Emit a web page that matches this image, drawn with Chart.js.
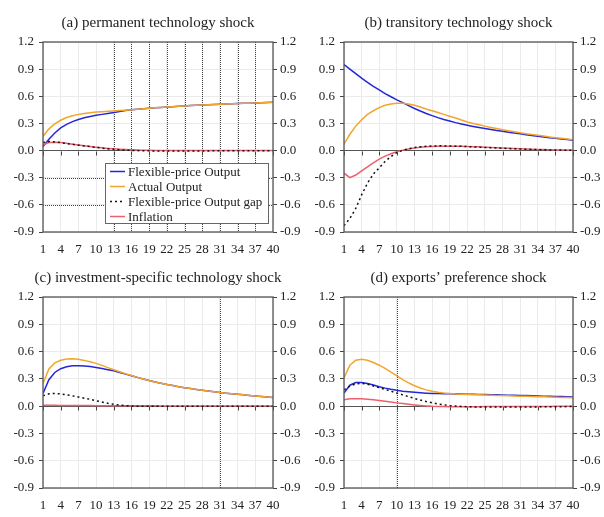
<!DOCTYPE html>
<html>
<head>
<meta charset="utf-8">
<title>Impulse responses</title>
<script src="https://cdn.jsdelivr.net/npm/chart.js@4.4.1/dist/chart.umd.min.js"></script>
<style>
    body { margin: 0; background: #fff; }
    #wrap { position: relative; width: 604px; height: 517px; overflow: hidden; }
    .panel { position: absolute; }
</style>
</head>
<body>
<div id="wrap">
    <div class="panel" style="left:0;top:0"><canvas id="panelA" width="300" height="258"></canvas></div>
    <div class="panel" style="left:300px;top:0"><canvas id="panelB" width="304" height="258"></canvas></div>
    <div class="panel" style="left:0;top:258px"><canvas id="panelC" width="300" height="259"></canvas></div>
    <div class="panel" style="left:300px;top:258px"><canvas id="panelD" width="304" height="259"></canvas></div>
</div>
<script>
// periods and axis ticks
const periods = [1,2,3,4,5,6,7,8,9,10,11,12,13,14,15,16,17,18,19,20,21,22,23,24,25,26,27,28,29,30,31,32,33,34,35,36,37,38,39,40];
const xTicks = [1,4,7,10,13,16,19,22,25,28,31,34,37,40];
const yTicks = [-0.9,-0.6,-0.3,0,0.3,0.6,0.9,1.2];

const seriesNames = ['Flexible-price Output', 'Actual Output', 'Flexible-price Output gap', 'Inflation'];

// (a) permanent technology shock
const aFlex = [0.045,0.125,0.195,0.25,0.29,0.32,0.343,0.362,0.377,0.39,0.40,0.41,0.42,0.432,0.442,0.45,0.456,0.462,0.467,0.472,0.477,0.481,0.485,0.489,0.493,0.497,0.5,0.503,0.506,0.509,0.512,0.515,0.517,0.52,0.522,0.524,0.526,0.528,0.531,0.533];
const aAct = [0.155,0.24,0.295,0.335,0.365,0.385,0.40,0.41,0.418,0.425,0.43,0.434,0.438,0.442,0.446,0.451,0.456,0.462,0.467,0.472,0.477,0.481,0.485,0.489,0.493,0.497,0.5,0.503,0.506,0.509,0.512,0.515,0.517,0.52,0.522,0.524,0.526,0.528,0.531,0.533];
const aGap = [0.09,0.10,0.095,0.087,0.078,0.069,0.06,0.051,0.043,0.035,0.027,0.02,0.014,0.009,0.005,0.002,0,-0.002,-0.003,-0.004,-0.004,-0.004,-0.004,-0.004,-0.004,-0.004,-0.004,-0.004,-0.004,-0.003,-0.003,-0.003,-0.003,-0.003,-0.003,-0.002,-0.002,-0.002,-0.002,-0.002];
const aInf = [0.065,0.09,0.092,0.088,0.08,0.071,0.062,0.053,0.045,0.037,0.03,0.024,0.019,0.015,0.011,0.008,0.006,0.004,0.003,0.002,0.002,0.001,0.001,0.001,0.001,0.001,0.001,0.001,0.001,0.001,0.001,0.001,0.001,0.001,0.001,0.001,0.001,0.001,0.001,0.001];

// (b) transitory technology shock
const bFlex = [0.95,0.90,0.85,0.80,0.755,0.71,0.67,0.63,0.595,0.56,0.53,0.497,0.465,0.437,0.41,0.386,0.364,0.344,0.326,0.309,0.294,0.28,0.267,0.255,0.244,0.233,0.223,0.213,0.203,0.194,0.185,0.176,0.167,0.159,0.151,0.143,0.136,0.129,0.122,0.115];
const bAct = [0.07,0.18,0.27,0.34,0.40,0.44,0.475,0.50,0.515,0.523,0.522,0.515,0.50,0.482,0.46,0.44,0.42,0.40,0.38,0.36,0.337,0.316,0.30,0.285,0.27,0.256,0.243,0.231,0.219,0.208,0.197,0.187,0.178,0.169,0.16,0.151,0.143,0.135,0.127,0.12];
const bGap = [-0.83,-0.75,-0.64,-0.49,-0.36,-0.26,-0.19,-0.12,-0.066,-0.022,0.003,0.02,0.033,0.042,0.048,0.051,0.052,0.052,0.051,0.049,0.047,0.044,0.041,0.038,0.035,0.032,0.029,0.026,0.023,0.02,0.018,0.015,0.013,0.011,0.009,0.007,0.006,0.005,0.004,0.003];
const bInf = [-0.25,-0.30,-0.27,-0.225,-0.18,-0.135,-0.095,-0.062,-0.035,-0.013,0.005,0.018,0.028,0.036,0.042,0.046,0.048,0.049,0.049,0.048,0.047,0.045,0.043,0.041,0.038,0.035,0.032,0.029,0.026,0.023,0.02,0.018,0.015,0.013,0.011,0.009,0.007,0.006,0.005,0.004];

// (c) investment-specific technology shock
const cFlex = [0.14,0.29,0.37,0.412,0.433,0.443,0.445,0.442,0.435,0.425,0.413,0.40,0.388,0.37,0.352,0.335,0.316,0.298,0.281,0.266,0.252,0.239,0.226,0.214,0.203,0.193,0.184,0.175,0.166,0.158,0.15,0.143,0.136,0.13,0.124,0.118,0.112,0.106,0.1,0.095];
const cAct = [0.25,0.41,0.475,0.505,0.518,0.52,0.515,0.503,0.488,0.47,0.448,0.424,0.40,0.378,0.356,0.336,0.316,0.298,0.281,0.266,0.252,0.239,0.226,0.214,0.203,0.193,0.184,0.175,0.166,0.158,0.15,0.143,0.136,0.13,0.124,0.118,0.112,0.106,0.1,0.095];
const cGap = [0.115,0.135,0.14,0.135,0.125,0.113,0.1,0.088,0.075,0.06,0.045,0.031,0.02,0.011,0.005,0.001,-0.001,-0.002,-0.002,-0.002,-0.002,-0.002,-0.002,-0.002,-0.002,-0.002,-0.002,-0.002,-0.002,-0.002,-0.002,-0.001,-0.001,-0.001,-0.001,-0.001,-0.001,-0.001,-0.001,-0.001];
const cInf = [0.01,0.01,0.009,0.008,0.008,0.007,0.007,0.006,0.006,0.005,0.005,0.005,0.004,0.004,0.004,0.003,0.003,0.003,0.003,0.003,0.002,0.002,0.002,0.002,0.002,0.002,0.002,0.002,0.002,0.002,0.001,0.001,0.001,0.001,0.001,0.001,0.001,0.001,0.001,0.001];

// (d) exports' preference shock
const dFlex = [0.145,0.23,0.26,0.26,0.25,0.232,0.213,0.198,0.185,0.174,0.165,0.158,0.152,0.147,0.143,0.14,0.138,0.136,0.135,0.134,0.133,0.132,0.131,0.129,0.128,0.126,0.125,0.123,0.121,0.12,0.118,0.116,0.114,0.112,0.11,0.109,0.107,0.105,0.103,0.101];
const dAct = [0.31,0.45,0.505,0.515,0.505,0.48,0.45,0.415,0.375,0.333,0.292,0.255,0.224,0.199,0.179,0.164,0.153,0.145,0.139,0.134,0.131,0.128,0.126,0.124,0.122,0.12,0.118,0.116,0.114,0.112,0.11,0.108,0.106,0.104,0.102,0.1,0.098,0.096,0.094,0.092];
const dGap = [0.18,0.22,0.245,0.25,0.24,0.222,0.203,0.184,0.164,0.144,0.124,0.104,0.085,0.067,0.051,0.037,0.025,0.015,0.007,0.001,-0.003,-0.006,-0.008,-0.009,-0.01,-0.01,-0.01,-0.01,-0.01,-0.01,-0.01,-0.009,-0.009,-0.008,-0.008,-0.007,-0.006,-0.006,-0.005,-0.005];
const dInf = [0.07,0.08,0.081,0.08,0.076,0.07,0.062,0.054,0.045,0.036,0.028,0.02,0.013,0.007,0.002,-0.002,-0.004,-0.005,-0.006,-0.006,-0.006,-0.006,-0.006,-0.006,-0.005,-0.005,-0.005,-0.005,-0.004,-0.004,-0.004,-0.004,-0.003,-0.003,-0.003,-0.003,-0.002,-0.002,-0.002,-0.002];

// dotted marker lines drawn in some panels
const aVMarks = [13,16,19,22,25,28,31,34,37];
const aHMarks = [-0.3,-0.6];
const cVMarks = [31];
const dVMarks = [10];

const FONT = '"Liberation Serif", "Times New Roman", serif';
const TEXT = '#222';
const FRAME = '#555';

// Frame, title, zero-line ticks, marker lines and the boxed legend
const panelDecor = {
    id: 'panelDecor',
    beforeDatasetsDraw(chart, args, opts) {
        const { ctx, chartArea: a, scales } = chart;
        ctx.save();
        ctx.strokeStyle = '#444';
        ctx.lineWidth = 1;
        ctx.setLineDash([1, 1]);
        (opts.vMarks || []).forEach(v => {
            const px = Math.round(scales.x.getPixelForValue(v)) + 0.5;
            ctx.beginPath(); ctx.moveTo(px, a.top); ctx.lineTo(px, a.bottom); ctx.stroke();
        });
        (opts.hMarks || []).forEach(v => {
            const py = Math.round(scales.y.getPixelForValue(v)) + 0.5;
            ctx.beginPath(); ctx.moveTo(a.left, py); ctx.lineTo(a.right, py); ctx.stroke();
        });
        ctx.setLineDash([]);

        // small ticks hanging under the zero line
        const y0 = Math.round(scales.y.getPixelForValue(0)) + 0.5;
        ctx.strokeStyle = '#444';
        xTicks.forEach(v => {
            const px = Math.round(scales.x.getPixelForValue(v)) + 0.5;
            ctx.beginPath(); ctx.moveTo(px, y0); ctx.lineTo(px, y0 + 4); ctx.stroke();
        });
        ctx.restore();
    },
    afterDraw(chart, args, opts) {
        const { ctx, chartArea: a } = chart;
        ctx.save();
        ctx.strokeStyle = FRAME;
        ctx.lineWidth = 1.3;
        ctx.strokeRect(a.left, a.top, a.right - a.left, a.bottom - a.top);

        ctx.fillStyle = TEXT;
        ctx.font = '15px ' + FONT;
        ctx.textAlign = 'center';
        ctx.textBaseline = 'middle';
        ctx.fillText(opts.title, (a.left + a.right) / 2, a.top - 19);

        if (opts.legend) {
            const w = 163, h = 60;
            const lx = a.right - 5 - w;
            const ly = a.bottom - 9 - h;
            ctx.fillStyle = '#fff';
            ctx.fillRect(lx, ly, w, h);
            ctx.strokeStyle = '#666';
            ctx.lineWidth = 1;
            ctx.strokeRect(lx + 0.5, ly + 0.5, w, h);
            ctx.font = '13px ' + FONT;
            ctx.textAlign = 'left';
            chart.data.datasets.forEach((ds, i) => {
                const cy = ly + 8.5 + i * 15;
                ctx.strokeStyle = ds.borderColor;
                ctx.lineWidth = ds.borderWidth;
                ctx.setLineDash(ds.borderDash || []);
                ctx.beginPath(); ctx.moveTo(lx + 5, cy); ctx.lineTo(lx + 20, cy); ctx.stroke();
                ctx.setLineDash([]);
                ctx.fillStyle = TEXT;
                ctx.fillText(ds.label, lx + 23, cy + 1);
            });
        }
        ctx.restore();
    }
};

function makeSet(label, values, color, dash, order) {
    return {
        label: label,
        data: periods.map((p, i) => ({ x: p, y: values[i] })),
        borderColor: color,
        borderWidth: 1.5,
        borderDash: dash,
        pointRadius: 0,
        tension: 0,
        fill: false,
        order: order
    };
}

function buildPanel(canvasId, cfg) {
    const setTicks = list => scale => { scale.ticks = list.map(v => ({ value: v })); };
    const tickFont = { family: FONT, size: 13 };

    new Chart(document.getElementById(canvasId), {
        type: 'line',
        data: {
            datasets: [
                makeSet(seriesNames[0], cfg.series[0], '#2626d9', [], 3),
                makeSet(seriesNames[1], cfg.series[1], '#f2a52c', [], 2),
                makeSet(seriesNames[2], cfg.series[2], '#111', [2, 3], 0),
                makeSet(seriesNames[3], cfg.series[3], '#ec5f6c', [], 1)
            ]
        },
        options: {
            responsive: false,
            animation: false,
            layout: { padding: { top: cfg.top, left: 0, right: 0, bottom: 0 } },
            plugins: {
                legend: { display: false },
                tooltip: { enabled: false },
                panelDecor: {
                    title: cfg.title,
                    vMarks: cfg.vMarks,
                    hMarks: cfg.hMarks,
                    legend: cfg.legend
                }
            },
            scales: {
                x: {
                    type: 'linear',
                    min: 1,
                    max: 40,
                    afterBuildTicks: setTicks(xTicks),
                    afterFit: scale => { scale.height = cfg.xHeight; },
                    grid: { color: '#ebebeb', drawTicks: false },
                    border: { display: false },
                    ticks: {
                        font: tickFont, color: TEXT, padding: 10,
                        maxRotation: 0, autoSkip: false,
                        callback: v => String(v)
                    }
                },
                y: {
                    min: -0.9,
                    max: 1.2,
                    afterBuildTicks: setTicks(yTicks),
                    afterFit: scale => { scale.width = cfg.leftW; },
                    grid: {
                        color: ctx => (ctx.tick && ctx.tick.value === 0) ? '#555' : '#ebebeb',
                        tickColor: '#444',
                        tickLength: 4
                    },
                    border: { display: false },
                    ticks: { font: tickFont, color: TEXT, padding: 5, callback: v => v.toFixed(1) }
                },
                y2: {
                    position: 'right',
                    min: -0.9,
                    max: 1.2,
                    afterBuildTicks: setTicks(yTicks),
                    afterFit: scale => { scale.width = cfg.rightW; },
                    grid: { drawOnChartArea: false, tickColor: '#444', tickLength: 4 },
                    border: { display: false },
                    ticks: { font: tickFont, color: TEXT, padding: 3, callback: v => v.toFixed(1) }
                }
            }
        },
        plugins: [panelDecor]
    });
}

document.addEventListener('DOMContentLoaded', function() {
    buildPanel('panelA', {
        title: '(a) permanent technology shock',
        series: [aFlex, aAct, aGap, aInf],
        vMarks: aVMarks, hMarks: aHMarks, legend: true,
        top: 42, xHeight: 26, leftW: 43, rightW: 27
    });
    buildPanel('panelB', {
        title: '(b) transitory technology shock',
        series: [bFlex, bAct, bGap, bInf],
        top: 42, xHeight: 26, leftW: 44, rightW: 31
    });
    buildPanel('panelC', {
        title: '(c) investment-specific technology shock',
        series: [cFlex, cAct, cGap, cInf],
        vMarks: cVMarks,
        top: 39, xHeight: 29, leftW: 43, rightW: 27
    });
    buildPanel('panelD', {
        title: '(d) exports\u2019 preference shock',
        series: [dFlex, dAct, dGap, dInf],
        vMarks: dVMarks,
        top: 39, xHeight: 29, leftW: 44, rightW: 31
    });
});
</script>
</body>
</html>
